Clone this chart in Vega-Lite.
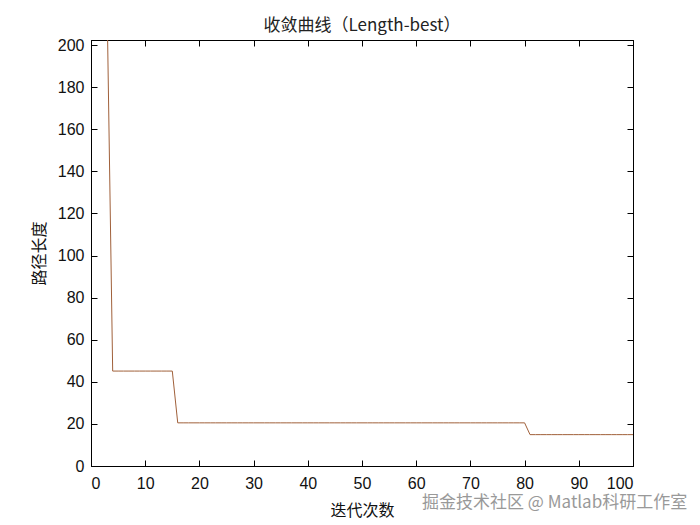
{
  "$schema": "https://vega.github.io/schema/vega-lite/v6.json",
  "width": 542,
  "height": 426,
  "autosize": {"type": "none"},
  "padding": {"left": 91, "top": 40, "right": 67, "bottom": 59},
  "background": "white",
  "title": {"text": "收敛曲线（Length-best）", "font": "Noto Sans CJK SC", "fontSize": 17, "fontWeight": "normal", "color": "#222", "offset": 2},
  "config": {
    "view": {"stroke": "black", "strokeWidth": 1},
    "axis": {"grid": false, "domainColor": "black", "tickColor": "black", "tickSize": -6, "labelFont": "Liberation Sans", "labelFontSize": 16, "labelColor": "#111", "titleFont": "Noto Sans CJK SC", "titleFontSize": 16, "titleFontWeight": "normal", "titleColor": "#111"}
  },
  "data": {"values": [
    {"iter": 1, "len": 420}, {"iter": 2, "len": 320}, {"iter": 3, "len": 214},
    {"iter": 4, "len": 45.1}, {"iter": 5, "len": 45.1}, {"iter": 6, "len": 45.1}, {"iter": 7, "len": 45.1}, {"iter": 8, "len": 45.1}, {"iter": 9, "len": 45.1}, {"iter": 10, "len": 45.1}, {"iter": 11, "len": 45.1}, {"iter": 12, "len": 45.1}, {"iter": 13, "len": 45.1}, {"iter": 14, "len": 45.1}, {"iter": 15, "len": 45.1},
    {"iter": 16, "len": 20.5}, {"iter": 17, "len": 20.5}, {"iter": 18, "len": 20.5}, {"iter": 19, "len": 20.5}, {"iter": 20, "len": 20.5}, {"iter": 21, "len": 20.5}, {"iter": 22, "len": 20.5}, {"iter": 23, "len": 20.5}, {"iter": 24, "len": 20.5}, {"iter": 25, "len": 20.5}, {"iter": 26, "len": 20.5}, {"iter": 27, "len": 20.5}, {"iter": 28, "len": 20.5}, {"iter": 29, "len": 20.5}, {"iter": 30, "len": 20.5},
    {"iter": 31, "len": 20.5}, {"iter": 32, "len": 20.5}, {"iter": 33, "len": 20.5}, {"iter": 34, "len": 20.5}, {"iter": 35, "len": 20.5}, {"iter": 36, "len": 20.5}, {"iter": 37, "len": 20.5}, {"iter": 38, "len": 20.5}, {"iter": 39, "len": 20.5}, {"iter": 40, "len": 20.5},
    {"iter": 41, "len": 20.5}, {"iter": 42, "len": 20.5}, {"iter": 43, "len": 20.5}, {"iter": 44, "len": 20.5}, {"iter": 45, "len": 20.5}, {"iter": 46, "len": 20.5}, {"iter": 47, "len": 20.5}, {"iter": 48, "len": 20.5}, {"iter": 49, "len": 20.5}, {"iter": 50, "len": 20.5},
    {"iter": 51, "len": 20.5}, {"iter": 52, "len": 20.5}, {"iter": 53, "len": 20.5}, {"iter": 54, "len": 20.5}, {"iter": 55, "len": 20.5}, {"iter": 56, "len": 20.5}, {"iter": 57, "len": 20.5}, {"iter": 58, "len": 20.5}, {"iter": 59, "len": 20.5}, {"iter": 60, "len": 20.5},
    {"iter": 61, "len": 20.5}, {"iter": 62, "len": 20.5}, {"iter": 63, "len": 20.5}, {"iter": 64, "len": 20.5}, {"iter": 65, "len": 20.5}, {"iter": 66, "len": 20.5}, {"iter": 67, "len": 20.5}, {"iter": 68, "len": 20.5}, {"iter": 69, "len": 20.5}, {"iter": 70, "len": 20.5},
    {"iter": 71, "len": 20.5}, {"iter": 72, "len": 20.5}, {"iter": 73, "len": 20.5}, {"iter": 74, "len": 20.5}, {"iter": 75, "len": 20.5}, {"iter": 76, "len": 20.5}, {"iter": 77, "len": 20.5}, {"iter": 78, "len": 20.5}, {"iter": 79, "len": 20.5}, {"iter": 80, "len": 20.5},
    {"iter": 81, "len": 14.9}, {"iter": 82, "len": 14.9}, {"iter": 83, "len": 14.9}, {"iter": 84, "len": 14.9}, {"iter": 85, "len": 14.9}, {"iter": 86, "len": 14.9}, {"iter": 87, "len": 14.9}, {"iter": 88, "len": 14.9}, {"iter": 89, "len": 14.9}, {"iter": 90, "len": 14.9},
    {"iter": 91, "len": 14.9}, {"iter": 92, "len": 14.9}, {"iter": 93, "len": 14.9}, {"iter": 94, "len": 14.9}, {"iter": 95, "len": 14.9}, {"iter": 96, "len": 14.9}, {"iter": 97, "len": 14.9}, {"iter": 98, "len": 14.9}, {"iter": 99, "len": 14.9}, {"iter": 100, "len": 14.9}
  ]},
  "layer": [
    {
      "mark": {"type": "line", "color": "#a0603a", "strokeWidth": 1, "clip": true},
      "encoding": {
        "x": {"field": "iter", "type": "quantitative", "scale": {"domain": [0, 100], "nice": false}, "axis": {"values": [0,10,20,30,40,50,60,70,80,90,100], "title": "迭代次数", "titlePadding": 11, "labelPadding": 15}},
        "y": {"field": "len", "type": "quantitative", "scale": {"domain": [0, 202.4], "nice": false, "zero": false}, "axis": {"values": [0,20,40,60,80,100,120,140,160,180,200], "title": "路径长度", "titlePadding": 10, "labelPadding": 13}}
      }
    },
    {
      "mark": {"type": "line", "opacity": 0, "clip": true},
      "encoding": {
        "x": {"field": "iter", "type": "quantitative", "scale": {"domain": [0, 100], "nice": false}, "axis": {"orient": "top", "values": [0,10,20,30,40,50,60,70,80,90,100], "labels": false, "title": null}},
        "y": {"field": "len", "type": "quantitative", "scale": {"domain": [0, 202.4], "nice": false, "zero": false}, "axis": {"orient": "right", "values": [0,20,40,60,80,100,120,140,160,180,200], "labels": false, "title": null}}
      }
    },
    {
      "data": {"values": [{"iter": 110, "len": -17.5, "label": "掘金技术社区 @ Matlab科研工作室"}]},
      "mark": {"type": "text", "align": "right", "baseline": "middle", "font": "Noto Sans CJK SC", "fontSize": 17, "color": "#888", "opacity": 0.85, "clip": false},
      "encoding": {
        "x": {"field": "iter", "type": "quantitative", "scale": {"domain": [0, 100], "nice": false}, "axis": null},
        "y": {"field": "len", "type": "quantitative", "scale": {"domain": [0, 202.4], "nice": false, "zero": false}, "axis": null},
        "text": {"field": "label"}
      }
    }
  ],
  "resolve": {"axis": {"x": "independent", "y": "independent"}}
}
